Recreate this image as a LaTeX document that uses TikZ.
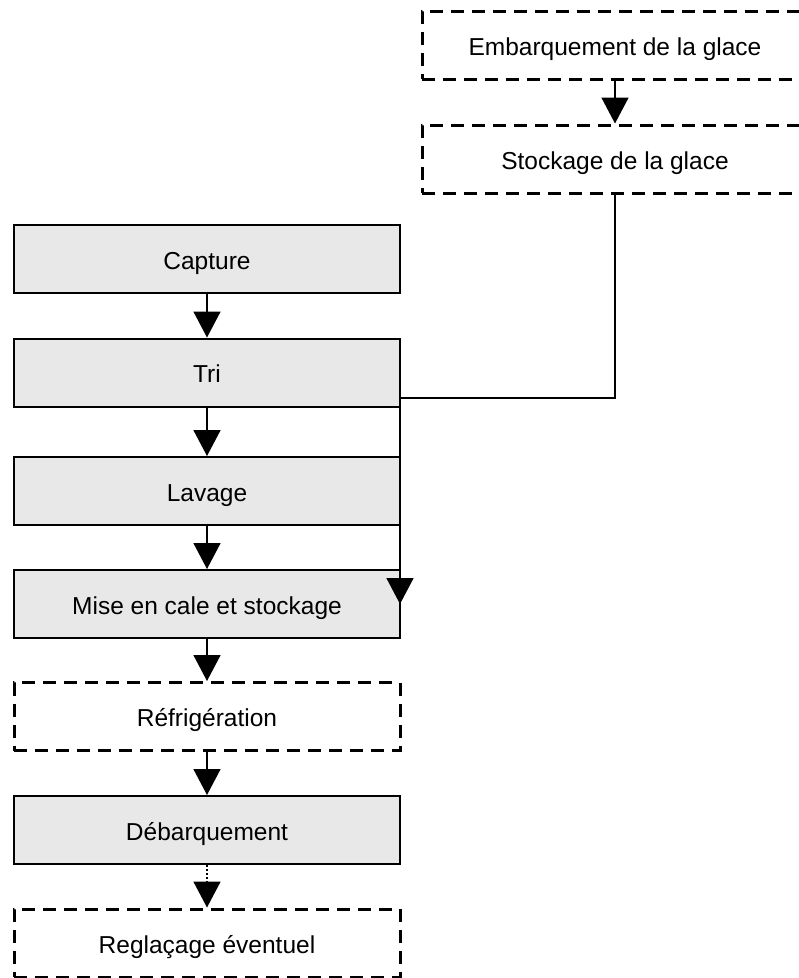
\documentclass[tikz,border=0pt]{standalone}
\usepackage{fontspec}
\setmainfont{Liberation Sans}
\usetikzlibrary{arrows.meta}
\definecolor{boxgray}{HTML}{E8E8E8}
\tikzset{
  x=1pt, y=-1pt,
  txt/.style={font=\fontsize{24.5}{29}\selectfont, inner sep=0pt,
    text height=20pt, text depth=0pt,
    minimum width=386pt, minimum height=68pt, align=center},
  solidbox/.style={txt, draw=black, line width=2pt, fill=boxgray},
  dashbox/.style={txt, draw=black, line width=3pt, fill=white,
    dash pattern=on 13pt off 8pt},
  conn/.style={draw=black, line width=1.6pt},
  arr/.style={conn, -{Triangle[width=27pt,length=26pt]}},
  dotarr/.style={arr, dash pattern=on 2pt off 2pt}
}
\begin{document}
\begin{tikzpicture}
\clip (0,0) rectangle (799,978);
\fill[white] (0,0) rectangle (799,978);

% ice supply chain (right column)
\node[dashbox] (emb) at (615,45) {Embarquement de la glace};
\node[dashbox] (sto) at (615,159) {Stockage de la glace};

% main handling chain (left column)
\node[solidbox] (cap)  at (207,259)   {Capture};
\node[solidbox] (tri)  at (207,372.5) {Tri};
\node[solidbox] (lav)  at (207,491)   {Lavage};
\node[solidbox] (mise) at (207,604)   {Mise en cale et stockage};
\node[dashbox]  (refr) at (207,716.5) {Réfrigération};
\node[solidbox] (deb)  at (207,830)   {Débarquement};
\node[dashbox]  (regl) at (207,943)   {Reglaçage éventuel};

% connectors
\draw[arr] (emb.south) -- (sto.north);
\draw[arr] (cap.south) -- (tri.north);
\draw[arr] (tri.south) -- (lav.north);
\draw[arr] (lav.south) -- (mise.north);
\draw[arr] (mise.south) -- (refr.north);
\draw[arr] (refr.south) -- (deb.north);
\draw[dotarr] (deb.south) -- (regl.north);

% ice feed into the hold, running down the right edge of the boxes
\coordinate (jn) at (400,398);
\draw[conn] (sto.south) |- (jn);
\draw[arr] (jn) -- (jn |- mise.east);
\end{tikzpicture}
\end{document}
